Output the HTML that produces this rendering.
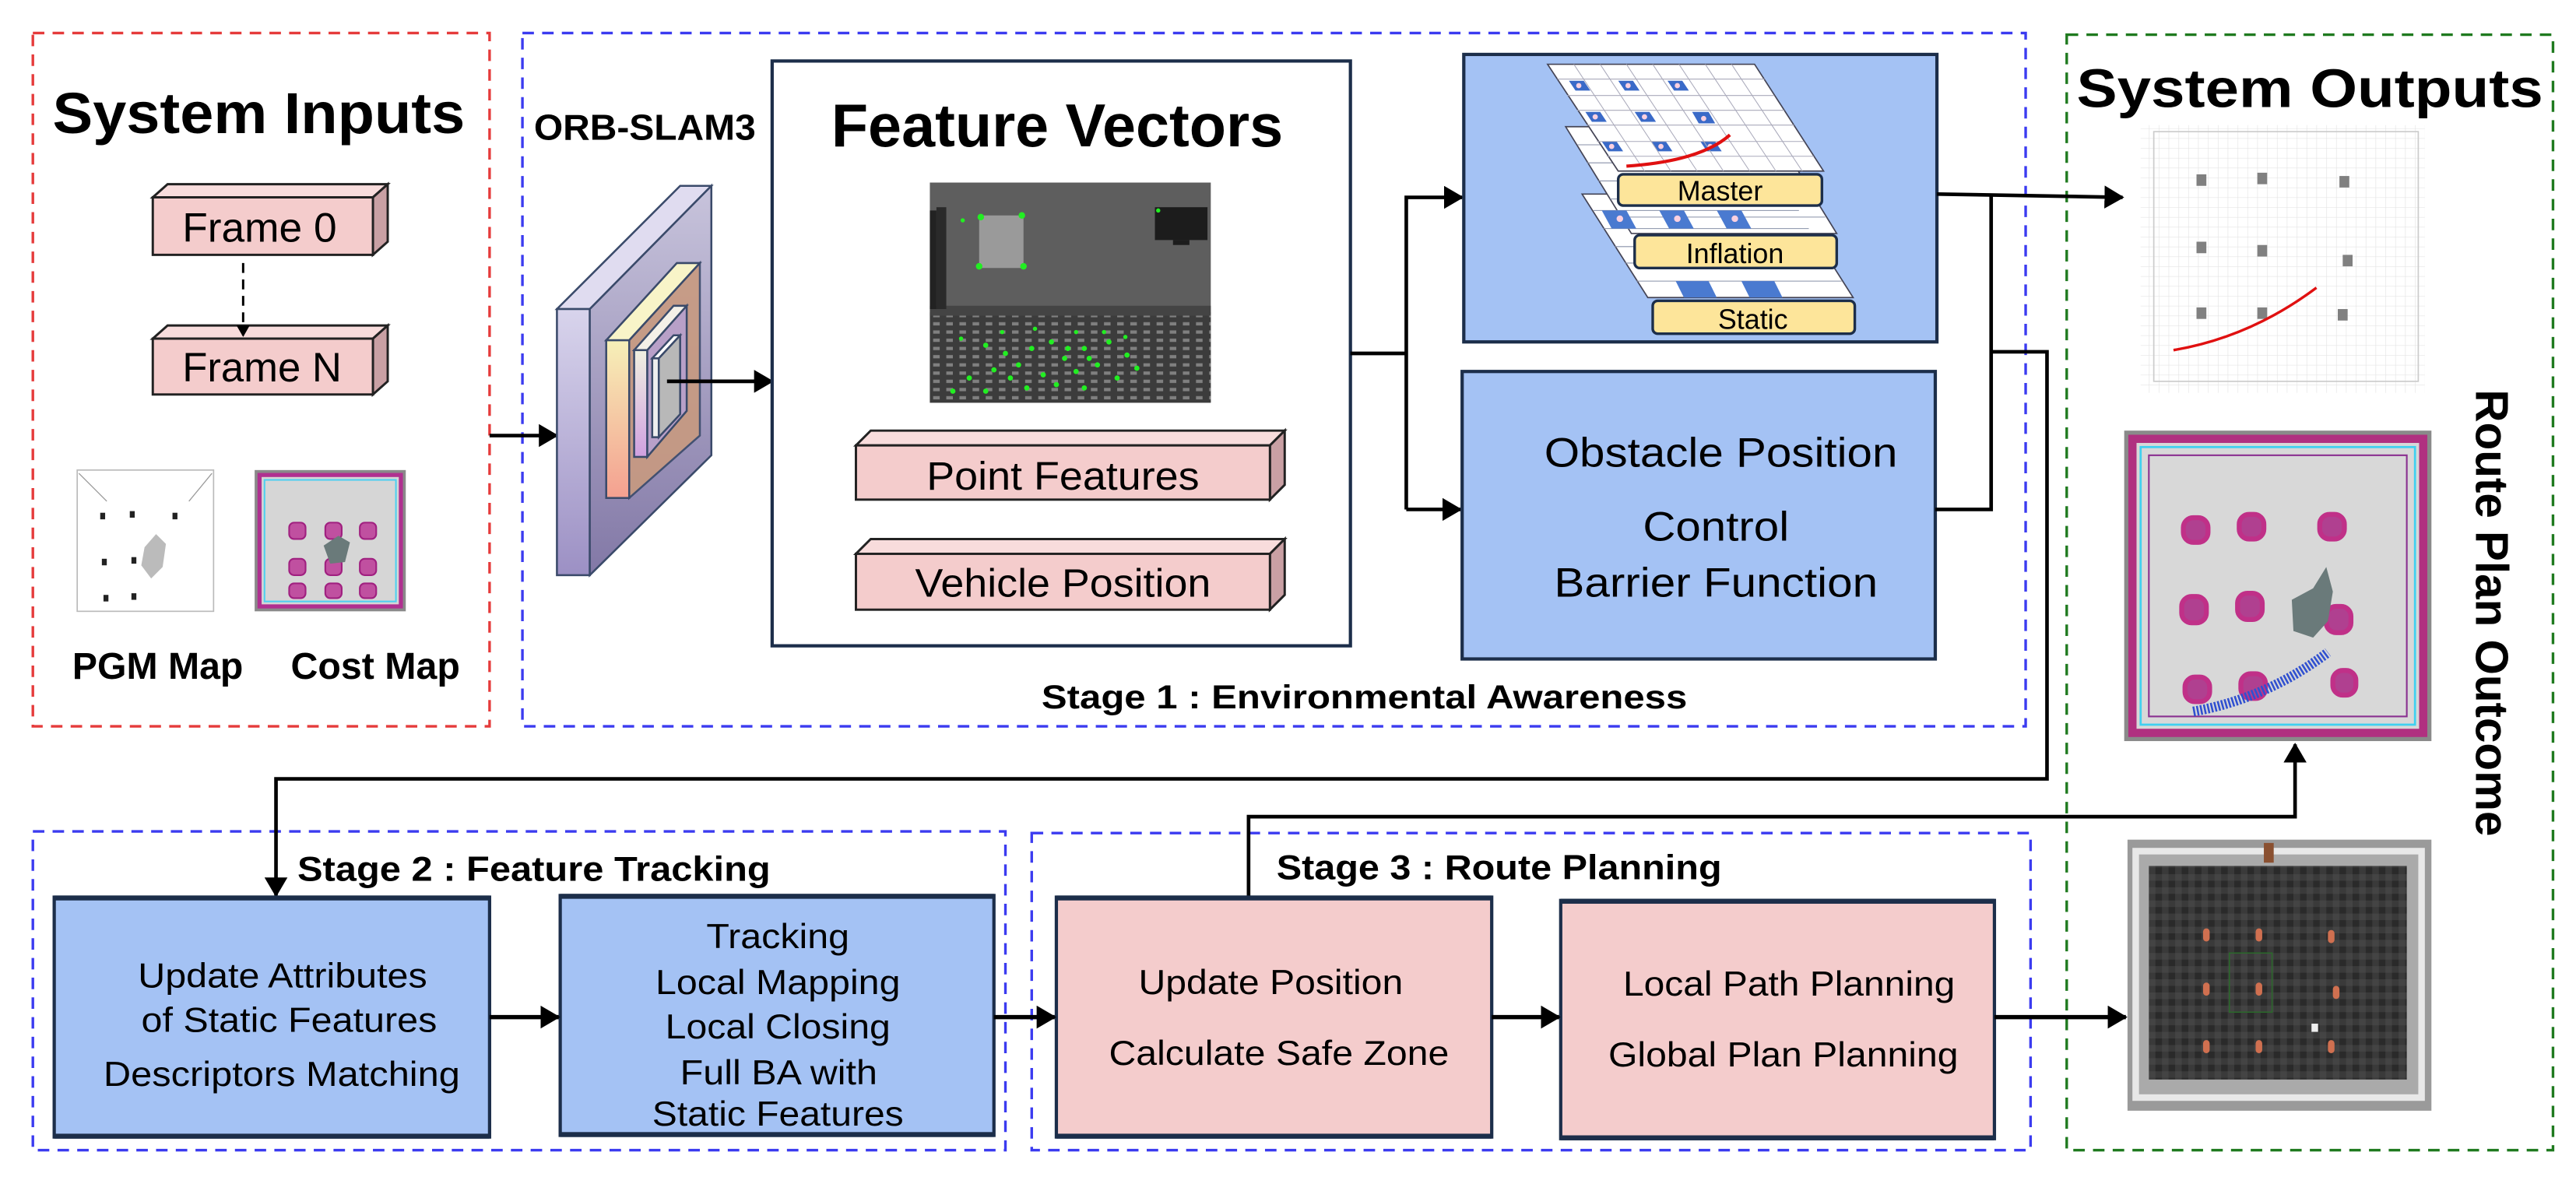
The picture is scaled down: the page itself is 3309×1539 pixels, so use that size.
<!DOCTYPE html>
<html><head><meta charset="utf-8"><style>
html,body{margin:0;padding:0;background:#fff}
svg{display:block}
text{font-family:"Liberation Sans",Arial,sans-serif;fill:#000}
.b{font-weight:bold}
</style></head><body>
<svg width="3309" height="1539" viewBox="0 0 1568 729" xmlns="http://www.w3.org/2000/svg">
<defs>
<marker id="ah" markerWidth="12" markerHeight="14" refX="11" refY="7" orient="auto" markerUnits="userSpaceOnUse"><path d="M0,0 L12,7 L0,14 z" fill="#000"/></marker>
<marker id="ahs" markerWidth="7" markerHeight="8" refX="6" refY="4" orient="auto" markerUnits="userSpaceOnUse"><path d="M0,0 L7,4 L0,8 z" fill="#000"/></marker>
<linearGradient id="slab" x1="0" y1="0" x2="0" y2="1"><stop offset="0" stop-color="#c8c4dc"/><stop offset="1" stop-color="#8278a6"/></linearGradient>
<linearGradient id="slabL" x1="0" y1="0" x2="0" y2="1"><stop offset="0" stop-color="#d8d4ec"/><stop offset="1" stop-color="#9c90c4"/></linearGradient>
<linearGradient id="lay" x1="0" y1="0" x2="0" y2="1"><stop offset="0" stop-color="#f6f0b8"/><stop offset="1" stop-color="#f4a090"/></linearGradient>
<linearGradient id="lay2" x1="0" y1="0" x2="0" y2="1"><stop offset="0" stop-color="#f0f0e0"/><stop offset="1" stop-color="#d0a0e0"/></linearGradient>
<pattern id="floor" width="8" height="5" patternUnits="userSpaceOnUse"><rect width="8" height="5" fill="#3c3c3c"/><rect x="0" y="1" width="4" height="2" fill="#808080"/></pattern>
<pattern id="grid" width="6" height="6" patternUnits="userSpaceOnUse"><rect width="6" height="6" fill="#fff"/><path d="M6,0 L0,0 0,6" fill="none" stroke="#e4e4e4" stroke-width="0.6"/></pattern>
<pattern id="gz" width="8" height="8" patternUnits="userSpaceOnUse"><rect width="8" height="8" fill="#3a3a3a"/><rect width="4" height="4" fill="#2a2a2a"/><rect x="4" y="4" width="4" height="4" fill="#444"/></pattern>
</defs>

<rect x="20" y="20" width="278" height="422" fill="none" stroke="#e53b3b" stroke-width="1.6" stroke-dasharray="7,5"/>
<rect x="318" y="20" width="915" height="422" fill="none" stroke="#3b3bf0" stroke-width="1.6" stroke-dasharray="7,5"/>
<rect x="1258" y="21" width="296" height="679" fill="none" stroke="#1f7a1f" stroke-width="1.6" stroke-dasharray="7,5"/>
<rect x="20" y="506" width="592" height="194" fill="none" stroke="#3b3bf0" stroke-width="1.6" stroke-dasharray="7,5"/>
<rect x="628" y="507" width="608" height="193" fill="none" stroke="#3b3bf0" stroke-width="1.6" stroke-dasharray="7,5"/>

<text x="32" y="81" class="b" font-size="35" textLength="251" lengthAdjust="spacingAndGlyphs">System Inputs</text>
<g stroke="#222" stroke-width="1.4">
<polygon points="93,120 102,112 236,112 227,120" fill="#f8dcdc"/>
<polygon points="227,120 236,112 236,147 227,155" fill="#c9a0a4"/>
<rect x="93" y="120" width="134" height="35" fill="#f4cccc"/>
<polygon points="93,206 102,198 236,198 227,206" fill="#f8dcdc"/>
<polygon points="227,206 236,198 236,232 227,240" fill="#c9a0a4"/>
<rect x="93" y="206" width="134" height="34" fill="#f4cccc"/>
</g>
<text x="111" y="147" font-size="25" textLength="94" lengthAdjust="spacingAndGlyphs">Frame 0</text>
<text x="111" y="232" font-size="25" textLength="97" lengthAdjust="spacingAndGlyphs">Frame N</text>
<line x1="148" y1="160" x2="148" y2="204" stroke="#000" stroke-width="1.4" stroke-dasharray="6,4" marker-end="url(#ahs)"/>
<rect x="47" y="286" width="83" height="86" fill="#fff" stroke="#bbb" stroke-width="0.8"/>
<g fill="#222"><rect x="61" y="312" width="3" height="4"/><rect x="79" y="311" width="3" height="4"/><rect x="105" y="312" width="3" height="4"/><rect x="62" y="340" width="3" height="4"/><rect x="80" y="339" width="3" height="4"/><rect x="63" y="362" width="3" height="4"/><rect x="80" y="361" width="3" height="4"/></g>
<polygon points="88,333 95,325 101,331 99,345 92,352 86,344" fill="#bbb"/>
<line x1="48" y1="288" x2="65" y2="305" stroke="#999" stroke-width="0.6"/><line x1="129" y1="288" x2="115" y2="305" stroke="#999" stroke-width="0.6"/>
<rect x="155" y="286" width="92" height="86" fill="#8a8a8a"/>
<rect x="158" y="289" width="86" height="80" fill="#d6d6d6" stroke="#b03090" stroke-width="2.5"/>
<rect x="161" y="292" width="80" height="74" fill="none" stroke="#50d0f0" stroke-width="1"/>
<g fill="#c050a0" stroke="#a02080" stroke-width="1">
<rect x="176" y="318" width="10" height="10" rx="3"/><rect x="198" y="318" width="10" height="10" rx="3"/><rect x="219" y="318" width="10" height="10" rx="3"/>
<rect x="176" y="340" width="10" height="10" rx="3"/><rect x="198" y="340" width="10" height="10" rx="3"/><rect x="219" y="340" width="10" height="10" rx="3"/>
<rect x="176" y="355" width="10" height="9" rx="3"/><rect x="198" y="355" width="10" height="9" rx="3"/><rect x="219" y="355" width="10" height="9" rx="3"/>
</g>
<polygon points="197,332 206,326 213,330 210,342 201,343" fill="#6a7a7a"/>
<text x="44" y="413" class="b" font-size="23" textLength="104" lengthAdjust="spacingAndGlyphs">PGM Map</text>
<text x="177" y="413" class="b" font-size="23" textLength="103" lengthAdjust="spacingAndGlyphs">Cost Map</text>

<line x1="298" y1="265" x2="339" y2="265" stroke="#000" stroke-width="2.2" marker-end="url(#ah)"/>

<text x="325" y="85" class="b" font-size="22" textLength="135" lengthAdjust="spacingAndGlyphs">ORB-SLAM3</text>
<g stroke="#3a4a6a" stroke-width="1.2">
<polygon points="339,188 414,113 433,113 359,188" fill="#e0dcf0"/>
<rect x="339" y="188" width="20" height="162" fill="url(#slabL)"/>
<polygon points="359,188 433,113 433,277 359,350" fill="url(#slab)"/>
<polygon points="369,207 412,160 426,160 383,207" fill="#f8f4c8"/>
<rect x="369" y="207" width="14" height="96" fill="url(#lay)"/>
<polygon points="383,207 426,160 426,265 383,303" fill="#c89a80" opacity="0.9"/>
<polygon points="386,213 410,186 418,186 394,213" fill="#f4f0e8"/>
<rect x="386" y="213" width="8" height="65" fill="url(#lay2)"/>
<polygon points="394,213 418,186 418,250 394,278" fill="#b8a0c8"/>
<polygon points="397,218 410,204 414,204 401,218" fill="#fff"/>
<rect x="397" y="218" width="4" height="48" fill="#eee"/>
<polygon points="401,218 414,204 414,252 401,266" fill="#b8b8b8"/>
</g>
<line x1="406" y1="232" x2="470" y2="232" stroke="#000" stroke-width="2.2" marker-end="url(#ah)"/>

<rect x="470" y="37" width="352" height="356" fill="#fff" stroke="#1c2e4a" stroke-width="2"/>
<text x="506" y="89" class="b" font-size="37" textLength="275" lengthAdjust="spacingAndGlyphs">Feature Vectors</text>
<rect x="566" y="111" width="171" height="134" fill="#5e5e5e"/>
<rect x="566" y="190" width="171" height="55" fill="url(#floor)"/>
<rect x="566" y="186" width="171" height="6" fill="#444"/>
<rect x="566" y="128" width="4" height="60" fill="#222"/><rect x="570" y="126" width="6" height="62" fill="#2a2a2a"/>
<rect x="596" y="131" width="27" height="32" fill="#9a9a9a"/>
<rect x="703" y="126" width="32" height="20" fill="#1c1c1c"/><rect x="714" y="146" width="10" height="3" fill="#1c1c1c"/>
<g fill="#22ee22"><circle cx="597" cy="132" r="2"/><circle cx="622" cy="131" r="2"/><circle cx="596" cy="162" r="2"/><circle cx="623" cy="162" r="2"/><circle cx="586" cy="134" r="1.3"/><circle cx="705" cy="128" r="1.3"/>
<circle cx="600" cy="210" r="1.6"/><circle cx="605" cy="225" r="1.6"/><circle cx="612" cy="215" r="1.6"/><circle cx="620" cy="222" r="1.6"/><circle cx="628" cy="212" r="1.6"/><circle cx="635" cy="228" r="1.6"/><circle cx="640" cy="208" r="1.6"/><circle cx="648" cy="218" r="1.6"/><circle cx="655" cy="226" r="1.6"/><circle cx="660" cy="212" r="1.6"/><circle cx="668" cy="222" r="1.6"/><circle cx="675" cy="208" r="1.6"/><circle cx="680" cy="230" r="1.6"/><circle cx="686" cy="216" r="1.6"/><circle cx="692" cy="224" r="1.6"/><circle cx="643" cy="234" r="1.6"/><circle cx="625" cy="236" r="1.6"/><circle cx="590" cy="230" r="1.6"/><circle cx="580" cy="238" r="1.6"/><circle cx="660" cy="236" r="1.6"/><circle cx="672" cy="202" r="1.3"/><circle cx="655" cy="202" r="1.3"/><circle cx="630" cy="200" r="1.3"/><circle cx="610" cy="202" r="1.3"/><circle cx="585" cy="206" r="1.3"/><circle cx="615" cy="230" r="1.6"/><circle cx="600" cy="238" r="1.6"/><circle cx="650" cy="212" r="1.6"/><circle cx="663" cy="218" r="1.6"/><circle cx="685" cy="205" r="1.3"/></g>
<g stroke="#222" stroke-width="1.4">
<polygon points="521,271 530,262 782,262 773,271" fill="#f8dcdc"/>
<polygon points="773,271 782,262 782,295 773,304" fill="#c9a0a4"/>
<rect x="521" y="271" width="252" height="33" fill="#f4cccc"/>
<polygon points="521,337 530,328 782,328 773,337" fill="#f8dcdc"/>
<polygon points="773,337 782,328 782,362 773,371" fill="#c9a0a4"/>
<rect x="521" y="337" width="252" height="34" fill="#f4cccc"/>
</g>
<text x="564" y="298" font-size="24" textLength="166" lengthAdjust="spacingAndGlyphs">Point Features</text>
<text x="557" y="363" font-size="24" textLength="180" lengthAdjust="spacingAndGlyphs">Vehicle Position</text>

<g fill="none" stroke="#000" stroke-width="2.2">
<polyline points="822,215 856,215"/>
<polyline points="856,310 856,120 890,120" marker-end="url(#ah)"/>
<polyline points="856,310 889,310" marker-end="url(#ah)"/>
</g>

<rect x="891" y="33" width="288" height="175" fill="#a4c2f4" stroke="#1c2e4a" stroke-width="2"/>
<g stroke="#445" stroke-width="0.8">
<polygon points="963,118 1088,118 1128,181 1003,181" fill="#fff"/>
<polygon points="953,77 1078,77 1118,142 993,142" fill="#fff"/>
</g>
<g stroke="#8890a8" stroke-width="0.5" fill="none">
<path d="M970,128 L1095,128 M976,139 L1101,139 M983,150 L1108,150 M989,160 L1114,160 M996,171 L1121,171"/>
<path d="M960,88 L1085,88 M966,99 L1091,99 M973,110 L1098,110 M980,121 L1105,121 M986,132 L1111,132"/>
</g>
<g fill="#4a7ad0"><polygon points="975,128 990,128 996,139 981,139"/><polygon points="1010,128 1025,128 1031,139 1016,139"/><polygon points="1045,128 1060,128 1066,139 1051,139"/><polygon points="1020,171 1040,171 1045,181 1025,181"/><polygon points="1060,171 1080,171 1085,181 1065,181"/></g>
<g fill="#fbd0e0"><circle cx="986" cy="133" r="2"/><circle cx="1021" cy="133" r="2"/><circle cx="1056" cy="133" r="2"/></g>
<polygon points="942,39 1068,39 1110,104 985,104" fill="#fff" stroke="#445" stroke-width="0.8"/>
<g fill="#3a6ac8">
<polygon points="955,49 964,49 968,55 959,55"/><polygon points="985,49 994,49 998,55 989,55"/><polygon points="1015,49 1024,49 1028,55 1019,55"/>
<polygon points="965,68 974,68 978,74 969,74"/><polygon points="995,68 1004,68 1008,74 999,74"/><polygon points="1030,68 1040,68 1044,75 1034,75"/>
<polygon points="975,86 984,86 988,92 979,92"/><polygon points="1005,86 1014,86 1018,92 1009,92"/><polygon points="1035,86 1044,86 1048,92 1039,92"/>
</g>
<g fill="#fbd0e0"><circle cx="961" cy="52" r="1.6"/><circle cx="991" cy="52" r="1.6"/><circle cx="1021" cy="52" r="1.6"/><circle cx="971" cy="71" r="1.6"/><circle cx="1001" cy="71" r="1.6"/><circle cx="1037" cy="72" r="1.6"/><circle cx="981" cy="89" r="1.6"/><circle cx="1011" cy="89" r="1.6"/><circle cx="1041" cy="89" r="1.6"/></g>
<g stroke="#aab" stroke-width="0.5" fill="none">
<path d="M948,48 L1074,48 M954,58 L1080,58 M960,67 L1086,67 M966,76 L1092,76 M972,86 L1098,86 M978,95 L1104,95"/>
<path d="M958,39 L1001,104 M974,39 L1017,104 M990,39 L1033,104 M1006,39 L1049,104 M1022,39 L1065,104 M1038,39 L1081,104 M1054,39 L1097,104"/>
</g>
<path d="M990,101 Q1035,98 1053,82" fill="none" stroke="#e01010" stroke-width="2"/>
<g stroke="#1c2e4a" stroke-width="1.6" fill="#fde59a">
<rect x="985" y="106" width="124" height="19" rx="3"/>
<rect x="995" y="143" width="123" height="20" rx="3"/>
<rect x="1006" y="183" width="123" height="20" rx="3"/>
</g>
<text x="1047" y="122" font-size="17" text-anchor="middle">Master</text>
<text x="1056" y="160" font-size="17" text-anchor="middle">Inflation</text>
<text x="1067" y="200" font-size="17" text-anchor="middle">Static</text>

<rect x="890" y="226" width="288" height="175" fill="#a4c2f4" stroke="#1c2e4a" stroke-width="2"/>
<text x="940" y="284" font-size="25" textLength="215" lengthAdjust="spacingAndGlyphs">Obstacle Position</text>
<text x="1000" y="329" font-size="25" textLength="89" lengthAdjust="spacingAndGlyphs">Control</text>
<text x="946" y="363" font-size="25" textLength="197" lengthAdjust="spacingAndGlyphs">Barrier Function</text>

<text x="634" y="431" class="b" font-size="20" textLength="393" lengthAdjust="spacingAndGlyphs">Stage 1 : Environmental Awareness</text>

<g fill="none" stroke="#000" stroke-width="2.2">
<polyline points="1179,118 1292,120" marker-end="url(#ah)"/>
<polyline points="1212,118 1212,310 1178,310"/>
<polyline points="1212,214 1246,214 1246,474 168,474 168,545" marker-end="url(#ah)"/>
<polyline points="760,546 760,497 1397,497 1397,453" marker-end="url(#ah)"/>
</g>

<text x="1264" y="65" class="b" font-size="33" textLength="284" lengthAdjust="spacingAndGlyphs">System Outputs</text>
<rect x="1303" y="76" width="173" height="163" fill="url(#grid)"/>
<rect x="1311" y="80" width="161" height="152" fill="none" stroke="#ccc" stroke-width="0.8"/>
<g fill="#808080"><rect x="1337" y="106" width="6" height="7"/><rect x="1374" y="105" width="6" height="7"/><rect x="1424" y="107" width="6" height="7"/><rect x="1337" y="147" width="6" height="7"/><rect x="1374" y="149" width="6" height="7"/><rect x="1426" y="155" width="6" height="7"/><rect x="1337" y="187" width="6" height="7"/><rect x="1374" y="187" width="6" height="7"/><rect x="1423" y="188" width="6" height="7"/></g>
<path d="M1323,213 Q1370,205 1410,175" fill="none" stroke="#e01010" stroke-width="1.6"/>

<rect x="1293" y="262" width="187" height="189" fill="#8a8a8a"/>
<rect x="1298" y="267" width="177" height="179" fill="#d8d8d8" stroke="#b03080" stroke-width="5"/>
<rect x="1303" y="272" width="167" height="169" fill="none" stroke="#40d0f0" stroke-width="1.3"/>
<rect x="1308" y="277" width="157" height="159" fill="none" stroke="#8a3090" stroke-width="1"/>
<g fill="#b04090" stroke="#c03088" stroke-width="3">
<rect x="1329" y="315" width="15" height="15" rx="6"/><rect x="1363" y="313" width="15" height="15" rx="6"/><rect x="1412" y="313" width="15" height="15" rx="6"/>
<rect x="1328" y="363" width="15" height="16" rx="6"/><rect x="1362" y="361" width="15" height="16" rx="6"/><rect x="1416" y="369" width="15" height="16" rx="6"/>
<rect x="1330" y="412" width="15" height="15" rx="6"/><rect x="1364" y="410" width="15" height="15" rx="6"/><rect x="1420" y="408" width="14" height="15" rx="6"/>
</g>
<polygon points="1395,365 1408,358 1416,345 1420,360 1417,378 1408,388 1396,384" fill="#6a7a7a"/>
<path d="M1335,433 Q1380,425 1417,397" fill="none" stroke="#3050d0" stroke-width="6" stroke-dasharray="1.2,1"/>

<text transform="translate(1507,237) rotate(90)" class="b" font-size="28" textLength="272" lengthAdjust="spacingAndGlyphs">Route Plan Outcome</text>

<rect x="1295" y="511" width="185" height="165" fill="#9a9a9a"/>
<rect x="1298" y="516" width="178" height="154" fill="#e8e8e8"/>
<rect x="1302" y="520" width="170" height="146" fill="#aaa"/>
<rect x="1308" y="527" width="157" height="130" fill="url(#gz)"/>
<rect x="1378" y="513" width="6" height="12" fill="#8a5030"/>
<g fill="#d07050"><rect x="1341" y="565" width="4" height="8" rx="2"/><rect x="1373" y="565" width="4" height="8" rx="2"/><rect x="1417" y="566" width="4" height="8" rx="2"/><rect x="1341" y="598" width="4" height="8" rx="2"/><rect x="1373" y="598" width="4" height="8" rx="2"/><rect x="1420" y="600" width="4" height="8" rx="2"/><rect x="1341" y="633" width="4" height="8" rx="2"/><rect x="1373" y="633" width="4" height="8" rx="2"/><rect x="1417" y="633" width="4" height="8" rx="2"/></g>
<rect x="1357" y="580" width="26" height="36" fill="none" stroke="#2a6a2a" stroke-width="0.7"/>
<rect x="1407" y="623" width="4" height="5" fill="#eee"/>

<text x="181" y="536" class="b" font-size="21" textLength="288" lengthAdjust="spacingAndGlyphs">Stage 2 : Feature Tracking</text>
<g stroke="#1c2e4a" stroke-width="2">
<rect x="33" y="546" width="265" height="146" fill="#a4c2f4"/>
<rect x="341" y="545" width="264" height="146" fill="#a4c2f4"/>
<rect x="643" y="546" width="265" height="146" fill="#f4cccc"/>
<rect x="950" y="548" width="264" height="145" fill="#f4cccc"/>
</g>
<g fill="#1c2e4a">
<rect x="33" y="545" width="265" height="3"/><rect x="33" y="690" width="265" height="3"/>
<rect x="341" y="544" width="264" height="3"/><rect x="341" y="689" width="264" height="3"/>
<rect x="643" y="545" width="265" height="3"/><rect x="643" y="690" width="265" height="3"/>
<rect x="950" y="547" width="264" height="3"/><rect x="950" y="691" width="264" height="3"/>
</g>
<text x="84" y="601" font-size="21" textLength="176" lengthAdjust="spacingAndGlyphs">Update Attributes</text>
<text x="86" y="628" font-size="21" textLength="180" lengthAdjust="spacingAndGlyphs">of Static Features</text>
<text x="63" y="661" font-size="21" textLength="217" lengthAdjust="spacingAndGlyphs">Descriptors Matching</text>
<text x="430" y="577" font-size="21" textLength="87" lengthAdjust="spacingAndGlyphs">Tracking</text>
<text x="399" y="605" font-size="21" textLength="149" lengthAdjust="spacingAndGlyphs">Local Mapping</text>
<text x="405" y="632" font-size="21" textLength="137" lengthAdjust="spacingAndGlyphs">Local Closing</text>
<text x="414" y="660" font-size="21" textLength="120" lengthAdjust="spacingAndGlyphs">Full BA with</text>
<text x="397" y="685" font-size="21" textLength="153" lengthAdjust="spacingAndGlyphs">Static Features</text>

<text x="777" y="535" class="b" font-size="21" textLength="271" lengthAdjust="spacingAndGlyphs">Stage 3 : Route Planning</text>
<text x="693" y="605" font-size="21" textLength="161" lengthAdjust="spacingAndGlyphs">Update Position</text>
<text x="675" y="648" font-size="21" textLength="207" lengthAdjust="spacingAndGlyphs">Calculate Safe Zone</text>
<text x="988" y="606" font-size="21" textLength="202" lengthAdjust="spacingAndGlyphs">Local Path Planning</text>
<text x="979" y="649" font-size="21" textLength="213" lengthAdjust="spacingAndGlyphs">Global Plan Planning</text>

<g fill="none" stroke="#000" stroke-width="2.6">
<line x1="298" y1="619" x2="340" y2="619" marker-end="url(#ah)"/>
<line x1="605" y1="619" x2="642" y2="619" marker-end="url(#ah)"/>
<line x1="908" y1="619" x2="949" y2="619" marker-end="url(#ah)"/>
<line x1="1214" y1="619" x2="1294" y2="619" marker-end="url(#ah)"/>
</g>
</svg>
</body></html>
